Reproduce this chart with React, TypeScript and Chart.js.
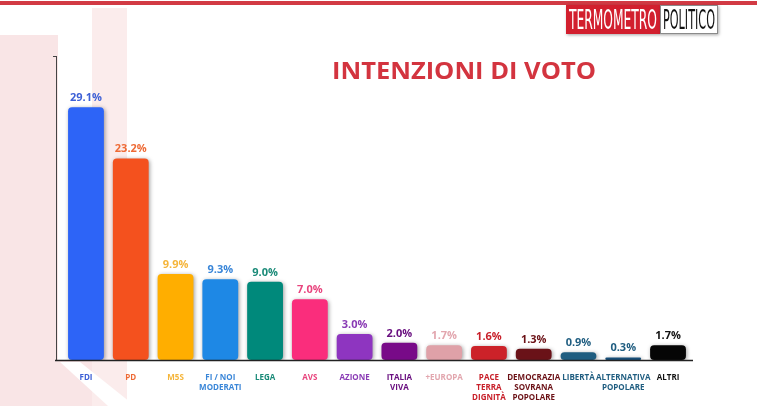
import React, { useEffect, useRef } from "react";
import { Chart, registerables } from "chart.js";
Chart.register(...registerables);

const titleText = "INTENZIONI DI VOTO";
const logoLeft = "TERMOMETRO";
const logoRight = "POLITICO";

const parties: string[][] = [
  ["FDI"],
  ["PD"],
  ["M5S"],
  ["FI / NOI", "MODERATI"],
  ["LEGA"],
  ["AVS"],
  ["AZIONE"],
  ["ITALIA", "VIVA"],
  ["+EUROPA"],
  ["PACE", "TERRA", "DIGNITÀ"],
  ["DEMOCRAZIA", "SOVRANA", "POPOLARE"],
  ["LIBERTÀ"],
  ["ALTERNATIVA", "POPOLARE"],
  ["ALTRI"],
];
const values = [29.1, 23.2, 9.9, 9.3, 9.0, 7.0, 3.0, 2.0, 1.7, 1.6, 1.3, 0.9, 0.3, 1.7];
const barColors = [
  "#2d64f7", "#f4511e", "#ffae00", "#1e88e5", "#00897b", "#fa2d7c", "#8e35c0",
  "#780a88", "#dfa1a8", "#cc2229", "#6a1218", "#1f5d80", "#174e78", "#050505",
];
const labelColors = [
  "#3d60d6", "#ee6a35", "#f5b53a", "#3a86d8", "#1a8a78", "#e8457e", "#8a3bb5",
  "#6a1080", "#e2a6ae", "#c8202a", "#6b1116", "#1f5d80", "#1f5d80", "#111111",
];

const FONT = "'Open Sans', 'DejaVu Sans', sans-serif";

const fitText = (ctx: any, t: string, font: string, x: number, y: number, w: number, color: string) => {
  ctx.save();
  ctx.font = font;
  const m = ctx.measureText(t).width;
  ctx.translate(x, y);
  ctx.scale(w / m, 1);
  ctx.fillStyle = color;
  ctx.textBaseline = "alphabetic";
  ctx.textAlign = "left";
  ctx.fillText(t, 0, 0);
  ctx.restore();
};

const decorPlugin = {
  id: "decor",
  beforeDraw(chart: any) {
    const { ctx, width, height } = chart;
    ctx.save();
    ctx.fillStyle = "#ffffff";
    ctx.fillRect(0, 0, width, height);
    // pink decorative shapes
    ctx.fillStyle = "#f9e5e6";
    ctx.fillRect(0, 35, 58, height - 35);
    ctx.fillStyle = "#fbecec";
    ctx.fillRect(92, 8, 35, height - 8);
    ctx.beginPath();
    ctx.moveTo(58, 360);
    ctx.lineTo(92, 360);
    ctx.lineTo(92, 406);
    ctx.lineTo(58, 406);
    ctx.closePath();
    ctx.fillStyle = "#f9e5e6";
    ctx.fill();
    ctx.beginPath();
    ctx.moveTo(60, 362);
    ctx.lineTo(80, 362);
    ctx.lineTo(135, 406);
    ctx.lineTo(108, 406);
    ctx.closePath();
    ctx.fillStyle = "#ffffff";
    ctx.fill();
    // top red line
    ctx.fillStyle = "#d23a44";
    ctx.fillRect(0, 1, 757, 4);
    // logo
    ctx.shadowColor = "rgba(0,0,0,0.35)";
    ctx.shadowBlur = 3;
    ctx.shadowOffsetX = 1;
    ctx.shadowOffsetY = 1;
    ctx.fillStyle = "#d21f2e";
    ctx.fillRect(566, 5, 94, 29);
    ctx.fillStyle = "#ffffff";
    ctx.fillRect(660, 5, 58, 29);
    ctx.shadowColor = "transparent";
    ctx.strokeStyle = "#8a8a8a";
    ctx.lineWidth = 1;
    ctx.strokeRect(660.5, 5.5, 57, 28);
    const logoFont = "26px 'Liberation Sans Narrow', 'DejaVu Sans Condensed', sans-serif";
    fitText(ctx, logoLeft, logoFont, 569, 29, 88, "#ffffff");
    fitText(ctx, logoRight, logoFont, 663, 29, 52, "#111111");
    // title
    fitText(ctx, titleText, `bold 23px ${FONT}`, 332, 79, 264, "#d3343f");
    ctx.restore();
  },
  beforeDatasetsDraw(chart: any) {
    const ctx = chart.ctx;
    ctx.save();
    ctx.shadowColor = "rgba(0,0,0,0.4)";
    ctx.shadowBlur = 4;
    ctx.shadowOffsetX = 1;
    ctx.shadowOffsetY = 1;
  },
  afterDatasetsDraw(chart: any) {
    const ctx = chart.ctx;
    ctx.restore();
    const area = chart.chartArea;
    ctx.save();
    // axes
    ctx.strokeStyle = "#444";
    ctx.lineWidth = 1;
    ctx.beginPath();
    ctx.moveTo(56.5, area.top);
    ctx.lineTo(56.5, area.bottom);
    ctx.moveTo(53, area.top + 0.5);
    ctx.lineTo(57, area.top + 0.5);
    ctx.stroke();
    ctx.strokeStyle = "#222";
    ctx.lineWidth = 1.5;
    ctx.beginPath();
    ctx.moveTo(55, area.bottom + 0.5);
    ctx.lineTo(693, area.bottom + 0.5);
    ctx.stroke();
    // value labels
    const meta = chart.getDatasetMeta(0);
    ctx.font = `bold 11px ${FONT}`;
    ctx.textAlign = "center";
    ctx.textBaseline = "alphabetic";
    meta.data.forEach((bar: any, i: number) => {
      ctx.fillStyle = labelColors[i];
      ctx.fillText(values[i].toFixed(1) + "%", bar.x, bar.y - 6);
    });
    ctx.restore();
  },
};

export default function App() {
  const ref = useRef<HTMLCanvasElement>(null);
  useEffect(() => {
    document.body.style.margin = "0";
    const chart = new Chart(ref.current!, {
      type: "bar",
      data: {
        labels: parties,
        datasets: [
          {
            data: values,
            backgroundColor: barColors,
            borderRadius: 4,
            borderSkipped: false,
            categoryPercentage: 1,
            barPercentage: 0.8,
          },
        ],
      },
      options: {
        animation: false,
        responsive: false,
        maintainAspectRatio: false,
        layout: { padding: { left: 63.6, right: 76.6, top: 56, bottom: -10 } },
        plugins: { legend: { display: false }, tooltip: { enabled: false } },
        scales: {
          x: {
            grid: { display: false, drawTicks: false },
            border: { display: false },
            ticks: {
              autoSkip: false,
              maxRotation: 0,
              padding: 13,
              font: { family: FONT, size: 8, weight: "bold", lineHeight: 1.25 },
              color: (c: any) => labelColors[c.index],
            },
          },
          y: {
            display: false,
            min: 0,
            max: 35,
          },
        },
      },
      plugins: [decorPlugin],
    });
    return () => chart.destroy();
  }, []);
  return (
    <div style={{ width: 767, height: 406 }}>
      <canvas ref={ref} width={767} height={406} style={{ display: "block" }} />
    </div>
  );
}
